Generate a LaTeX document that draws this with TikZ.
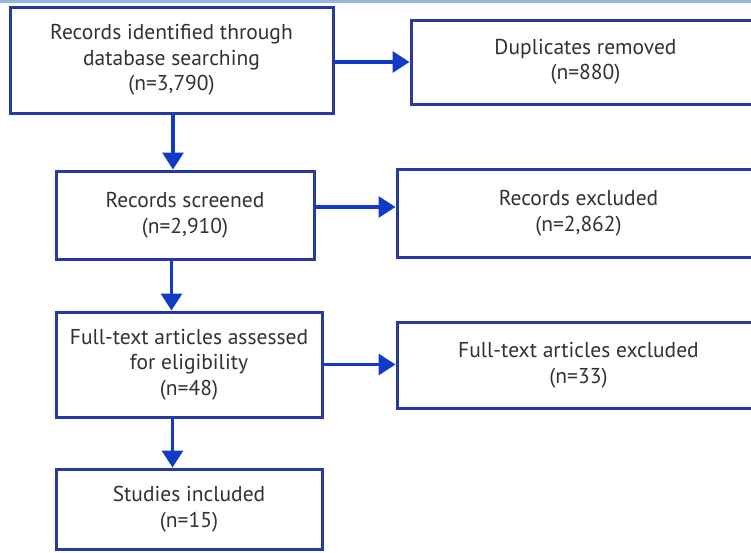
\documentclass[tikz,border=0pt]{standalone}
\usepackage{fontspec}
\setmainfont{PT Sans}
\usetikzlibrary{arrows.meta,calc}
\definecolor{boxblue}{RGB}{38,58,160}
\definecolor{arrblue}{RGB}{18,58,200}
\definecolor{txt}{RGB}{50,50,50}
\definecolor{topbar}{RGB}{150,182,226}
\begin{document}
\begin{tikzpicture}[x=1pt,y=-1pt,
  fbox/.style={draw=boxblue,line width=3pt,rectangle,fill=white,text=txt,align=center,
    font=\fontsize{21.5}{25.5}\selectfont,inner sep=0pt},
  arr/.style={draw=arrblue,line width=3.2pt,-{Triangle[length=17pt,width=21pt]},arrblue}]
\useasboundingbox (0,0) rectangle (751,552);
\clip (0,0) rectangle (751,552);
\fill[white] (0,0) rectangle (751,552);
\fill[topbar] (0,0) rectangle (751,2.5);
\node[fbox,minimum width=323pt,minimum height=106pt] (b1) at (171.5,60) {Records identified through\\database searching\\(n=3,790)};
\node[fbox,minimum width=349pt,minimum height=84pt] (b2) at (585.5,62) {Duplicates removed\\(n=880)};
\node[fbox,minimum width=258pt,minimum height=88pt] (b3) at (185,215) {Records screened\\(n=2,910)};
\node[fbox,minimum width=363pt,minimum height=88pt] (b4) at (578.5,213) {Records excluded\\(n=2,862)};
\node[fbox,minimum width=266pt,minimum height=105pt] (b5) at (189,364.5) {Full-text articles assessed\\for eligibility\\(n=48)};
\node[fbox,minimum width=363pt,minimum height=86pt] (b6) at (578.5,365) {Full-text articles excluded\\(n=33)};
\node[fbox,minimum width=266pt,minimum height=80pt] (b7) at (189,509) {Studies included\\(n=15)};
\draw[arr] (b2.west -| b1.east) -- (b2.west);
\draw[arr] ([xshift=1.5pt]b1.south) -- ([xshift=1.5pt]b1.south |- b3.north);
\draw[arr] ([yshift=8pt]b3.east) -- ([yshift=8pt]b3.east -| b4.west);
\draw[arr] ([xshift=117pt]b3.south west) -- ([xshift=117pt]b3.south west |- b5.north);
\draw[arr] (b5.east) -- (b5.east -| b6.west);
\draw[arr] ([xshift=118pt]b5.south west) -- ([xshift=118pt]b5.south west |- b7.north);
\end{tikzpicture}
\end{document}
